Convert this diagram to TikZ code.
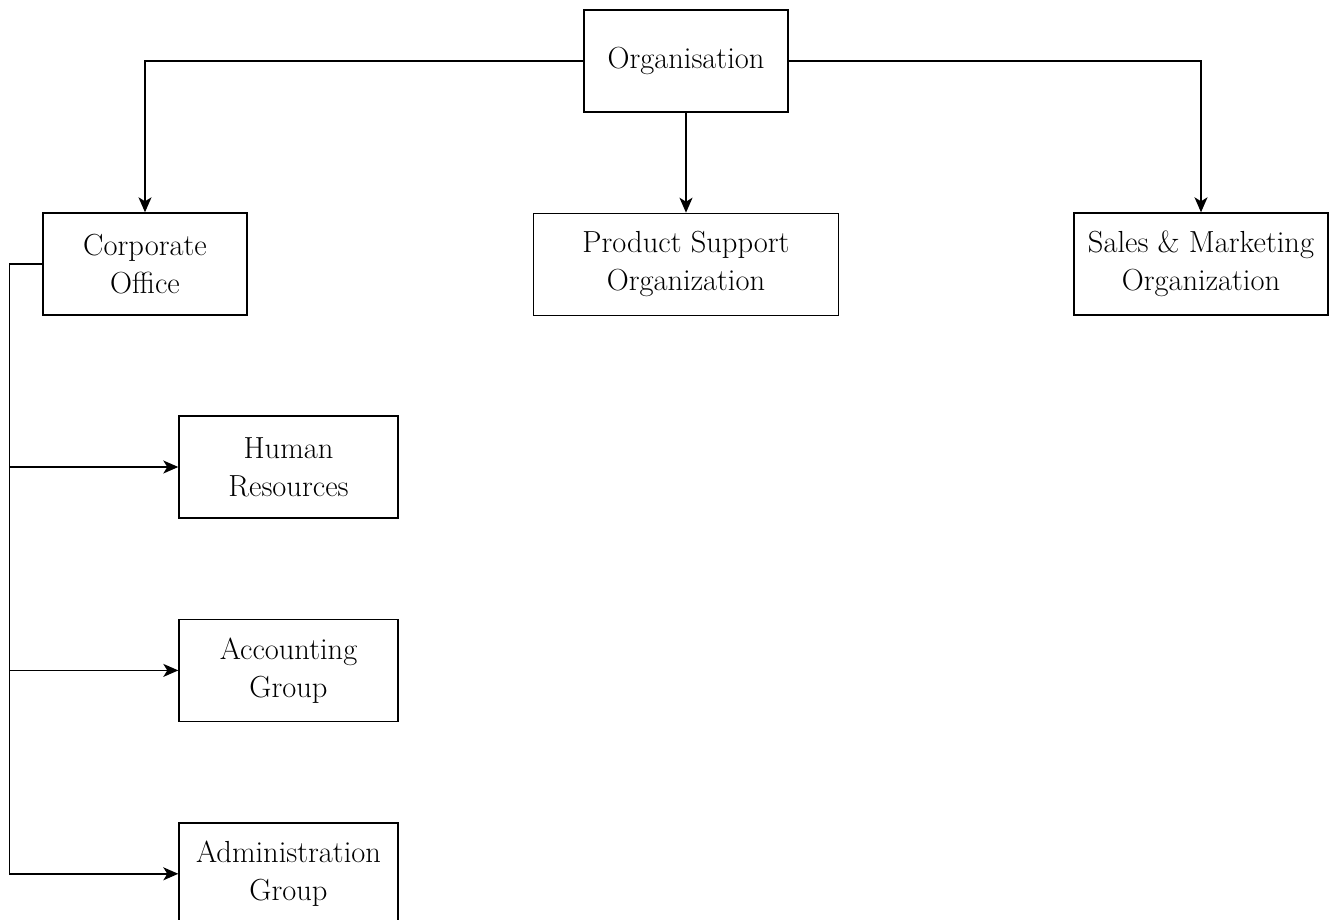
\documentclass[tikz,border=0pt]{standalone}
\usepackage{tikz}
\usetikzlibrary{
  arrows.meta,
  positioning
}
\tikzset{
  dept/.style={
    draw=black,
    fill=white,
    line width=1.4pt,
    minimum width=204pt,
    minimum height=102pt,
    inner sep=2pt,
    align=center,
    font=\fontsize{30.5}{38}\selectfont
  },
  branch/.style={
    -{Stealth[length=15pt,width=13pt,inset=4pt]},
    line width=1.4pt,
    draw=black
  }
}
\begin{document}
\begin{tikzpicture}[x=1pt,y=1pt]
  \useasboundingbox (0,0) rectangle (1331,-919);

  \node[dept] (org) at (686,-61) {Organisation};
  \node[dept] (corp) at (145,-264) {Corporate\\Office};
  \node[dept, minimum width=305pt, below=100pt of org] (prod) {Product Support\\Organization};
  \node[dept, minimum width=254pt] (sales) at (1201,-264) {Sales \& Marketing\\Organization};

  \node[dept, minimum width=219pt] (hr) at (288.5,-467) {Human\\Resources};
  \node[dept, minimum width=219pt, below=100pt of hr] (acc) {Accounting\\Group};
  \node[dept, minimum width=219pt, below=100pt of acc] (adm) {Administration\\Group};

  \draw[branch] (org) -| (corp);
  \draw[branch] (org) -- (prod);
  \draw[branch] (org) -| (sales);

  \coordinate[left=33pt of corp.west] (spine);
  \draw[branch] (corp.west) -- (spine) |- (adm);
  \foreach \d in {hr,acc}{
    \draw[branch] (spine) |- (\d);
  }
\end{tikzpicture}
\end{document}
